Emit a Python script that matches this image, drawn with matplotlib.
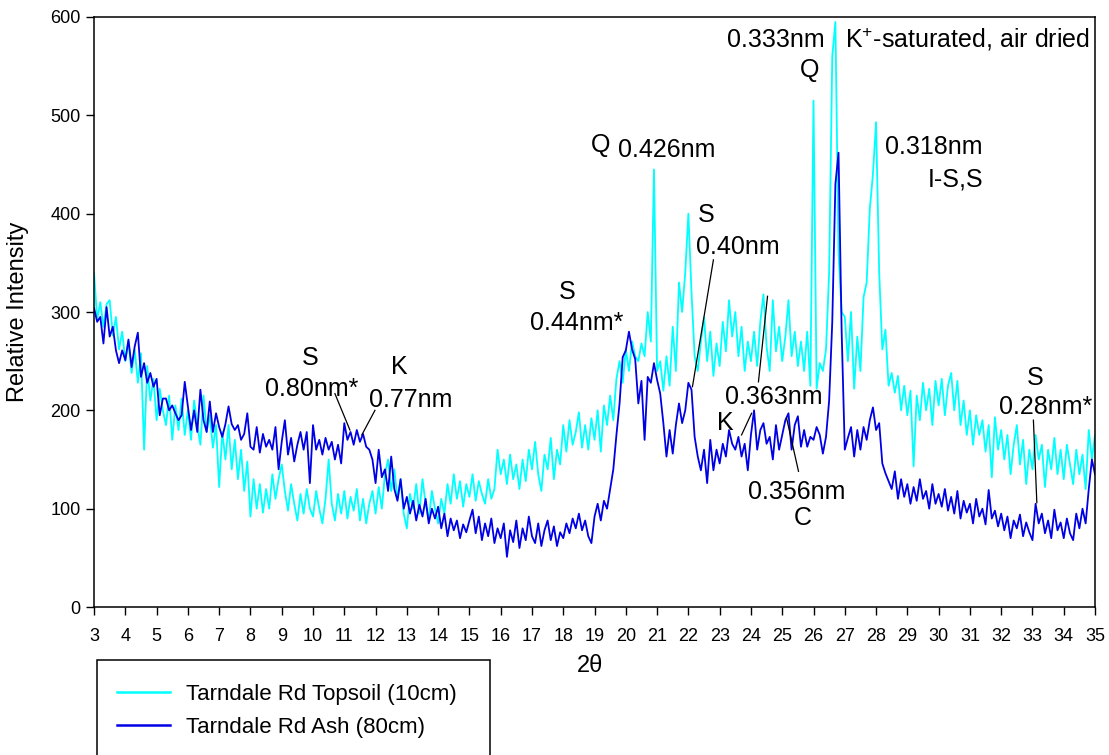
import numpy as np
import matplotlib.pyplot as plt
from matplotlib.patches import Rectangle
from matplotlib.lines import Line2D

plt.rcParams['font.family'] = ['Liberation Sans', 'DejaVu Sans']
plt.rcParams['mathtext.fontset'] = 'custom'
plt.rcParams['mathtext.rm'] = 'Liberation Sans'
plt.rcParams['mathtext.default'] = 'regular'

# 2-theta grid, 3.0 to 35.0 in 0.1 deg steps
two_theta = np.round(np.arange(3.0, 35.01, 0.1), 1)

# Tarndale Rd Topsoil (10cm), one row per degree
topsoil = [
    340, 292, 310, 285, 308, 312, 276, 295, 262, 280,   # 3
    250, 270, 238, 262, 228, 258, 160, 245, 210, 232,   # 4
    190, 222, 200, 185, 215, 170, 205, 180, 212, 175,   # 5
    200, 170, 210, 185, 165, 215, 178, 195, 162, 185,   # 6
    122, 178, 150, 185, 140, 170, 130, 160, 118, 148,   # 7
    92, 130, 100, 125, 96, 120, 100, 135, 110, 130,     # 8
    145, 118, 98, 125, 105, 88, 115, 95, 120, 100,      # 9
    92, 118, 100, 85, 110, 150, 105, 88, 115, 95,       # 10
    118, 90, 112, 98, 120, 88, 110, 85, 105, 118,       # 11
    95, 122, 100, 135, 150, 118, 140, 110, 130, 95,     # 12
    80, 115, 100, 125, 95, 130, 105, 88, 118, 100,      # 13
    85, 110, 95, 125, 105, 135, 110, 128, 102, 125,     # 14
    112, 135, 108, 128, 115, 105, 130, 110, 120, 160,   # 15
    135, 150, 125, 155, 130, 145, 120, 150, 128, 160,   # 16
    140, 168, 135, 118, 155, 140, 172, 130, 160, 145,   # 17
    185, 158, 190, 165, 178, 198, 162, 185, 160, 192,   # 18
    170, 200, 158, 205, 185, 215, 190, 232, 250, 228,   # 19
    262, 240, 270, 255, 250, 268, 255, 300, 270, 445,   # 20
    240, 250, 220, 255, 225, 285, 240, 330, 300, 340,   # 21
    400, 320, 255, 240, 270, 295, 250, 280, 235, 268,   # 22
    245, 290, 260, 312, 275, 300, 255, 285, 240, 270,   # 23
    250, 280, 245, 290, 318, 265, 240, 312, 260, 285,   # 24
    250, 275, 312, 255, 280, 245, 270, 240, 280, 225,   # 25
    515, 222, 248, 240, 262, 340, 560, 595, 360, 300,   # 26
    295, 250, 300, 222, 275, 240, 315, 330, 405, 440,   # 27
    493, 340, 262, 282, 225, 238, 218, 235, 200, 225,   # 28
    195, 220, 143, 215, 190, 228, 200, 222, 185, 230,   # 29
    205, 232, 195, 225, 238, 200, 230, 185, 210, 175,   # 30
    200, 165, 195, 175, 190, 158, 185, 132, 193, 160,   # 31
    180, 150, 175, 135, 165, 185, 145, 170, 125, 160,   # 32
    140, 175, 150, 165, 122, 160, 140, 172, 135, 160,   # 33
    130, 165, 145, 125, 160, 135, 155, 120, 180, 150,   # 34
    175,
]

# Tarndale Rd Ash (80cm)
ash = [
    304, 290, 295, 268, 305, 275, 285, 261, 248, 261,   # 3
    251, 272, 244, 265, 279, 234, 248, 228, 238, 224,   # 4
    232, 195, 212, 212, 200, 205, 197, 190, 195, 229,   # 5
    204, 180, 200, 178, 221, 190, 178, 209, 178, 197,   # 6
    183, 173, 186, 204, 186, 180, 185, 170, 176, 197,   # 7
    163, 160, 183, 157, 176, 163, 170, 160, 183, 140,   # 8
    168, 190, 155, 172, 148, 165, 178, 160, 178, 126,   # 9
    185, 160, 170, 155, 172, 160, 168, 150, 165, 146,   # 10
    187, 170, 178, 165, 180, 168, 176, 163, 160, 150,   # 11
    126, 160, 132, 140, 118, 153, 120, 108, 130, 100,   # 12
    112, 95, 108, 88, 104, 92, 110, 85, 100, 90,        # 13
    102, 80, 95, 72, 90, 78, 88, 70, 84, 76,            # 14
    88, 99, 75, 92, 68, 85, 72, 90, 65, 80,             # 15
    70, 85, 51, 78, 66, 88, 60, 80, 68, 92,             # 16
    72, 65, 85, 62, 78, 88, 68, 82, 62, 76,             # 17
    70, 85, 75, 90, 80, 95, 78, 88, 72, 65,             # 18
    92, 105, 88, 108, 100, 120, 140, 175, 207, 254,     # 19
    261, 280, 262, 252, 207, 230, 170, 234, 228, 248,   # 20
    231, 217, 187, 153, 180, 156, 185, 207, 187, 200,   # 21
    228, 221, 173, 153, 139, 160, 126, 170, 139, 160,   # 22
    146, 166, 153, 180, 166, 160, 173, 153, 166, 139,   # 23
    175, 200, 160, 180, 187, 166, 173, 150, 185, 160,   # 24
    175, 190, 197, 160, 185, 194, 163, 180, 163, 173,   # 25
    170, 183, 175, 156, 173, 210, 290, 430, 462, 280,   # 26
    160, 172, 183, 153, 180, 160, 183, 170, 190, 203,   # 27
    180, 187, 146, 136, 128, 120, 138, 110, 130, 112,   # 28
    125, 105, 122, 108, 130, 110, 118, 100, 125, 105,   # 29
    115, 102, 120, 98, 112, 95, 118, 90, 108, 96,       # 30
    105, 85, 110, 92, 100, 84, 119, 90, 98, 82,         # 31
    95, 78, 92, 70, 88, 80, 94, 72, 86, 76,             # 32
    68, 105, 85, 95, 75, 88, 70, 99, 78, 86,            # 33
    70, 90, 75, 68, 95, 80, 100, 85, 120, 150,          # 34
    135,
]

series_labels = ['Tarndale Rd Topsoil (10cm)', 'Tarndale Rd Ash (80cm)']
series_colors = ['#00ffff', '#0000e6']

# peak labels: text, 2theta, intensity
peak_labels = [
    ('S', 9.9, 253), ('0.80nm*', 9.97, 222),
    ('K', 12.75, 244), ('0.77nm', 13.13, 211),
    ('S', 18.12, 320), ('0.44nm*', 18.44, 289),
    ('Q', 19.18, 470), ('0.426nm', 21.3, 465),
    ('S', 22.57, 399), ('0.40nm', 23.59, 366),
    ('0.363nm', 24.72, 214), ('K', 23.17, 187),
    ('0.356nm', 25.47, 117), ('C', 25.67, 91),
    ('0.333nm', 24.8, 577), ('Q', 25.89, 546),
    ('0.318nm', 29.85, 468), ('I-S,S', 30.54, 435),
    ('S', 33.08, 233), ('0.28nm*', 33.43, 203),
]

# pointer lines: (x0, y0, x1, y1)
pointers = [
    (10.70, 217, 11.18, 180),
    (11.98, 200, 11.56, 175),
    (22.80, 353, 22.13, 224),
    (24.53, 316, 24.24, 229),
    (24.02, 197, 23.70, 175),
    (25.14, 192, 25.52, 138),
    (33.03, 190, 33.14, 106),
]

fig = plt.figure(figsize=(11.09, 7.55), dpi=100)
ax = fig.add_axes([0.0848, 0.196, 0.9026, 0.7815])

ax.plot(two_theta, topsoil, color=series_colors[0], lw=1.3)
ax.plot(two_theta, ash, color=series_colors[1], lw=1.3)

for txt, x, y in peak_labels:
    ax.text(x, y, txt, ha='center', va='center', fontsize=18)
for x0, y0, x1, y1 in pointers:
    ax.plot([x0, x1], [y0, y1], color='black', lw=0.9)

ax.text(34.84, 577, 'K$^{+}$-saturated, air dried', ha='right', va='center', fontsize=18)

ax.set_xlim(3, 35)
ax.set_ylim(0, 600)
ax.set_xticks(range(3, 36))
ax.set_yticks(range(0, 601, 100))
ax.tick_params(direction='out', length=6, width=1, labelsize=13, colors='black')
ax.tick_params(axis='x', pad=9)
for sp in ax.spines.values():
    sp.set_linewidth(1.1)
    sp.set_color('black')

fig.text(18 / 1109, 1 - 312 / 755, 'Relative Intensity', rotation=90,
         ha='center', va='center', fontsize=17)
fig.text(590 / 1109, 1 - 666 / 755, '2\u03b8', ha='center', va='center', fontsize=17)

# legend box, cut off at the bottom like the original
fig.patches.append(Rectangle((97 / 1109, -0.05), (490 - 97) / 1109, 0.05 + 1 - 660 / 755,
                             transform=fig.transFigure, fill=False,
                             edgecolor='black', lw=1.1))
handles = [Line2D([], [], color=c, lw=1.8) for c in series_colors]
fig.legend(handles, series_labels, loc='upper left',
           bbox_to_anchor=(117 / 1109, 1 - 684 / 755), frameon=False,
           fontsize=16, handlelength=2.4, handletextpad=0.7, labelspacing=0.55,
           borderpad=0, borderaxespad=0)

fig.savefig('out.png', dpi=100)
